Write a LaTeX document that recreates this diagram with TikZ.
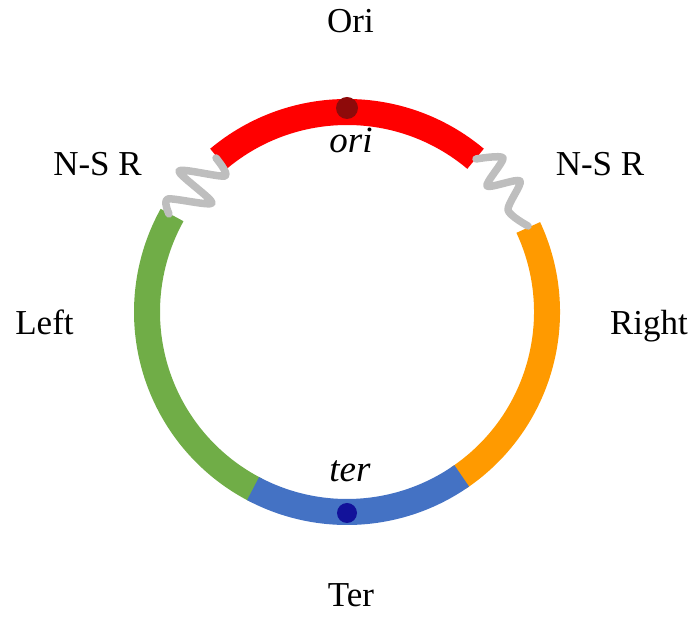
\documentclass[tikz,border=0pt]{standalone}
\usepackage{fontspec}
\setmainfont{Liberation Serif}
\definecolor{segred}{HTML}{FF0000}
\definecolor{seggreen}{HTML}{70AD47}
\definecolor{segblue}{HTML}{4472C4}
\definecolor{segorange}{HTML}{FF9A00}
\definecolor{springgray}{HTML}{BEBEBE}
\definecolor{oridot}{HTML}{8E0A0A}
\definecolor{terdot}{HTML}{12129A}
\begin{document}
\begin{tikzpicture}[x=1pt,y=1pt,
  band/.style={line width=26pt},
  spring/.style={springgray, line width=7.5pt, line cap=round, line join=round},
  label/.style={font=\fontsize{35}{40}\selectfont, anchor=base, inner sep=0pt},
  sitelabel/.style={font=\fontsize{37}{42}\selectfont\itshape, anchor=base, inner sep=0pt}]
  \useasboundingbox (0,0) rectangle (694,618);
  \coordinate (c) at (347,306);

  % chromosome arms
  \draw[band, segred]    ([shift={(50:200)}]c)  arc[start angle=50,  end angle=130, radius=200];
  \draw[band, seggreen]  ([shift={(151:200)}]c) arc[start angle=151, end angle=243, radius=200];
  \draw[band, segorange] ([shift={(304:200)}]c) arc[start angle=304, end angle=385, radius=200];
  \draw[band, segblue]   ([shift={(242:200)}]c) arc[start angle=242, end angle=305, radius=200];

  % non-structured regions drawn as springs
  \draw[spring] plot[smooth, tension=0.45] coordinates
    {(216,460) (225,442) (179,447) (212,415) (168,419) (169,404)};
  \draw[spring] plot[smooth, tension=0.45] coordinates
    {(476,459) (503,460) (487,432) (520,437) (508,408) (528,392)};

  % origin and terminus sites
  \fill[oridot] (347,510) circle[radius=11];
  \fill[terdot] (347,105) circle[radius=10];

  % labels
  \node[label] (ori)    at (350.5,585) {Ori};
  \node[label] (nsrl)   at (97.5,442)  {N-S R};
  \node[label] (nsrr)   at (600,442)   {N-S R};
  \node[label] (left)   at (44.5,283)  {Left};
  \node[label] (right)  at (649,283)   {Right};
  \node[label] (ter)    at (351,11)    {Ter};
  \node[sitelabel] (orisite) at (351,465) {ori};
  \node[sitelabel] (tersite) at (350,136) {ter};
\end{tikzpicture}
\end{document}
